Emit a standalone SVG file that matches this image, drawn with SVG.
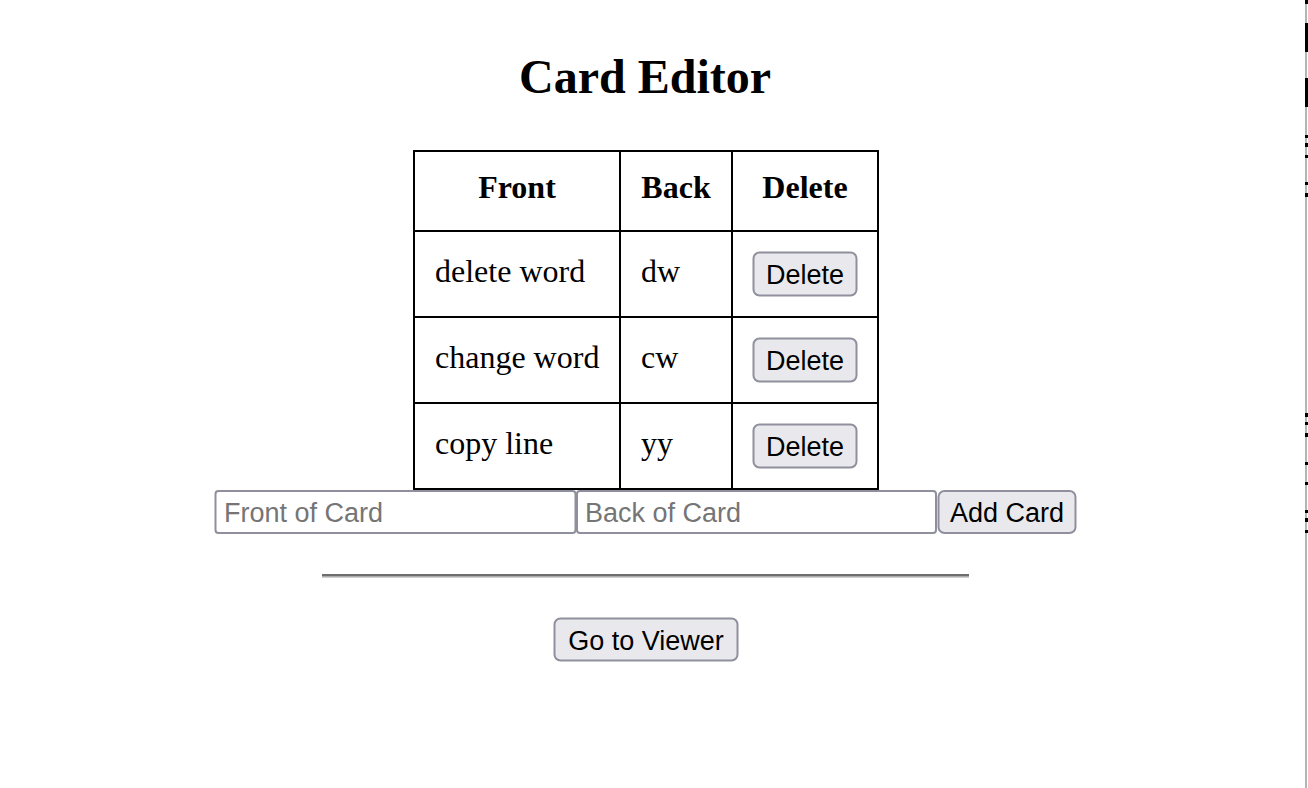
<svg xmlns="http://www.w3.org/2000/svg" width="1308" height="788" viewBox="0 0 1308 788">
<style>
.serif{font-family:"Liberation Serif","Times New Roman",serif;fill:#000}
.th{font-size:32px;font-weight:bold;text-anchor:middle}
.td{font-size:32px}
.sans{font-family:"Liberation Sans",Arial,Helvetica,sans-serif;font-size:27px}
.btn{fill:#e9e9ed;stroke:#8f8f9d;stroke-width:2}
.btxt{fill:#000;text-anchor:middle}
.inp{fill:#fff;stroke:#8f8f9d;stroke-width:2}
.ph{fill:#757575}
.grid{stroke:#000;stroke-width:2;fill:none}
.edge{fill:#000}
</style>
<rect width="1308" height="788" fill="#fff"/>

<g id="title">
<text class="serif" x="645" y="93" font-size="48" font-weight="bold" text-anchor="middle">Card Editor</text>
</g>

<g id="table">
<rect class="grid" x="414" y="151" width="464" height="338"/>
<line class="grid" x1="620" y1="151" x2="620" y2="489"/>
<line class="grid" x1="732" y1="151" x2="732" y2="489"/>
<line class="grid" x1="414" y1="231" x2="878" y2="231"/>
<line class="grid" x1="414" y1="317" x2="878" y2="317"/>
<line class="grid" x1="414" y1="403" x2="878" y2="403"/>
<text class="serif th" x="517" y="198">Front</text>
<text class="serif th" x="676" y="198">Back</text>
<text class="serif th" x="805" y="198">Delete</text>
</g>

<g id="row1">
<text class="serif td" x="435" y="282">delete word</text>
<text class="serif td" x="641" y="282">dw</text>
<rect class="btn" x="753.5" y="252.5" width="103" height="43" rx="6"/>
<text class="sans btxt" x="805" y="284">Delete</text>
</g>

<g id="row2">
<text class="serif td" x="435" y="368">change word</text>
<text class="serif td" x="641" y="368">cw</text>
<rect class="btn" x="753.5" y="338.5" width="103" height="43" rx="6"/>
<text class="sans btxt" x="805" y="370">Delete</text>
</g>

<g id="row3">
<text class="serif td" x="435" y="454">copy line</text>
<text class="serif td" x="641" y="454">yy</text>
<rect class="btn" x="753.5" y="424.5" width="103" height="43" rx="6"/>
<text class="sans btxt" x="805" y="456">Delete</text>
</g>

<g id="front-input">
<rect class="inp" x="215.5" y="491" width="360" height="42" rx="3"/>
<text class="sans ph" x="224" y="522">Front of Card</text>
</g>

<g id="back-input">
<rect class="inp" x="577" y="491" width="359" height="42" rx="3"/>
<text class="sans ph" x="585" y="522">Back of Card</text>
</g>

<g id="add-card">
<rect class="btn" x="938.5" y="491" width="137" height="42" rx="6"/>
<text class="sans btxt" x="1007" y="522">Add Card</text>
</g>

<g id="hr">
<rect x="322" y="574" width="647" height="2.2" fill="#6e6e6e"/>
<rect x="322" y="576.2" width="647" height="1.3" fill="#a0a0a0"/>
</g>

<g id="go-viewer">
<rect class="btn" x="554.5" y="618.5" width="183" height="42" rx="6"/>
<text class="sans btxt" x="646" y="650">Go to Viewer</text>
</g>

<g id="right-edge">
<rect x="1305" y="0" width="2" height="788" fill="#b4b4b4"/>
<rect class="edge" x="1305" y="0" width="3" height="4"/>
<rect class="edge" x="1305" y="23" width="3" height="29"/>
<rect class="edge" x="1305" y="78" width="3" height="29"/>
<rect class="edge" x="1305" y="135" width="3" height="3"/>
<rect class="edge" x="1305" y="143" width="3" height="4"/>
<rect class="edge" x="1305" y="155" width="3" height="3"/>
<rect class="edge" x="1305" y="182" width="3" height="3"/>
<rect class="edge" x="1305" y="193" width="3" height="4"/>
<rect class="edge" x="1305" y="413" width="3" height="4"/>
<rect class="edge" x="1305" y="422" width="3" height="3"/>
<rect class="edge" x="1305" y="433" width="3" height="4"/>
<rect class="edge" x="1305" y="462" width="3" height="3"/>
<rect class="edge" x="1305" y="482" width="3" height="3"/>
<rect class="edge" x="1305" y="510" width="3" height="3"/>
<rect class="edge" x="1305" y="518" width="3" height="4"/>
<rect class="edge" x="1305" y="530" width="3" height="3"/>
</g>
</svg>
